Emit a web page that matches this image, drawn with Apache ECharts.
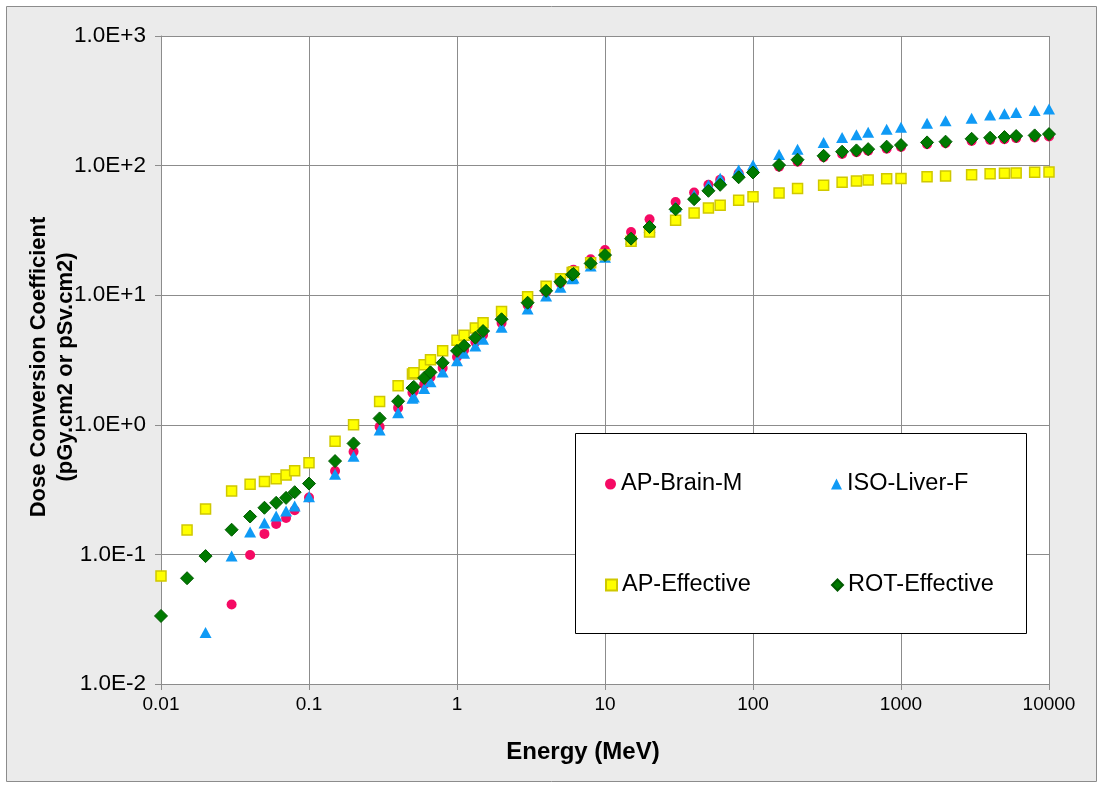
<!DOCTYPE html>
<html>
<head>
<meta charset="utf-8">
<script src="https://cdn.jsdelivr.net/npm/echarts@6/dist/echarts.min.js"></script>
<style>
html,body{margin:0;padding:0;background:#ffffff;}
#chart{width:1104px;height:789px;}
</style>
</head>
<body>
<div id="chart"></div>
<script>
// ---- data ----
var energies = [0.01,0.015,0.02,0.03,0.04,0.05,0.06,0.07,0.08,0.1,0.15,0.2,0.3,0.4,0.5,0.511,0.6,0.662,0.8,1,1.117,1.33,1.5,2,3,4,5,6,6.129,8,10,15,20,30,40,50,60,80,100,150,200,300,400,500,600,800,1000,1500,2000,3000,4000,5000,6000,8000,10000];

var apBrainM = [null,null,null,0.041,0.099,0.144,0.172,0.191,0.219,0.275,0.44,0.62,0.966,1.35,1.77,1.82,2.05,2.33,2.74,3.34,3.78,4.36,4.93,6.1,8.4,10.6,12.4,15.5,15.7,18.9,22.3,30.7,38.6,52.4,61.9,71.1,77.7,87.3,90,98,107,116,123,127,130,135,139,146,149,155,158,160,163,165,168];

var isoLiverF = [null,null,0.025,0.097,0.149,0.175,0.198,0.216,0.236,0.278,0.416,0.573,0.91,1.24,1.6,1.64,1.91,2.15,2.56,3.12,3.56,4.06,4.57,5.65,7.82,9.87,11.5,13.4,13.6,16.8,19.6,27,33.5,48.2,59.4,71,80,92.6,101,122,134,151,165,173,181,191,198,212,222,232,246,251,257,266,273];

var apEffective = [0.068,0.154,0.224,0.309,0.348,0.365,0.383,0.409,0.442,0.509,0.748,1.0,1.51,2.0,2.47,2.52,2.91,3.17,3.73,4.49,4.90,5.59,6.12,7.48,9.75,11.7,13.4,15.0,15.1,17.8,20.5,26.1,30.8,37.9,43.1,47.1,49.5,54.0,57.5,61.5,66.5,70.5,74.5,76.0,77.5,79.0,79.5,82.2,83.0,85.0,86.5,87.2,87.8,88.9,89.3];

var rotEffective = [0.0335,0.0655,0.097,0.155,0.196,0.229,0.25,0.273,0.302,0.352,0.525,0.718,1.12,1.52,1.92,1.96,2.30,2.54,3.01,3.72,4.07,4.70,5.29,6.52,8.75,10.8,12.7,14.4,14.6,17.6,20.4,27.3,33.6,46.0,55.1,63.9,71.1,81.3,88.5,101,111,119,128,131,134,140,144,151,153,161,164,166,169,171,175];

var seriesNames = ['AP-Brain-M','ISO-Liver-F','AP-Effective','ROT-Effective'];
var xTickLabels = ['0.01','0.1','1','10','100','1000','10000'];
var yTickLabels = ['1.0E-2','1.0E-1','1.0E+0','1.0E+1','1.0E+2','1.0E+3'];
var xTitle = 'Energy (MeV)';
var yTitle = 'Dose Conversion Coefficient\n(pGy.cm2 or pSv.cm2)';

function pairs(vals){
  var out = [];
  for (var i = 0; i < energies.length; i++) {
    if (vals[i] !== null) out.push([energies[i], vals[i]]);
  }
  return out;
}
function tickLabel(list, minExp){
  return function(v){
    var e = Math.round(Math.log(v)/Math.LN10);
    var idx = e - minExp;
    return (idx >= 0 && idx < list.length) ? list[idx] : '';
  };
}

var FONT = '"Liberation Sans", Arial, sans-serif';
var chart = echarts.init(document.getElementById('chart'), null, {renderer:'canvas'});

var legendPos = [
  {left:605, top:472},
  {left:831, top:472},
  {left:605, top:573},
  {left:831, top:573}
];

var option = {
  animation:false,
  backgroundColor:'#ffffff',
  graphic:[
    {type:'rect', z:-10, shape:{x:6.5,y:6.5,width:1090,height:775}, style:{fill:'#ebebeb', stroke:'#8c8c8c', lineWidth:1}},
    {type:'rect', z:-9, shape:{x:161,y:36,width:888,height:648}, style:{fill:'#ffffff'}},
    {type:'rect', z:50, shape:{x:575.5,y:433.5,width:451,height:200}, style:{fill:'#ffffff', stroke:'#000000', lineWidth:1}},
    {type:'text', z:60, x:583, y:752, style:{text:xTitle, font:'bold 24px ' + FONT, fill:'#000', textAlign:'center', textVerticalAlign:'middle'}},
    {type:'text', z:60, x:52, y:367, rotation:Math.PI/2, style:{text:yTitle, font:'bold 22px ' + FONT, fill:'#000', textAlign:'center', textVerticalAlign:'middle', lineHeight:27}}
  ],
  grid:{left:161, right:55, top:36, bottom:105, containLabel:false},
  xAxis:{
    type:'log', logBase:10, min:0.01, max:10000,
    axisLine:{show:true, lineStyle:{color:'#8c8c8c', width:1}},
    axisTick:{show:true, inside:false, length:6, lineStyle:{color:'#8c8c8c'}},
    minorTick:{show:false},
    splitLine:{show:true, lineStyle:{color:'#8c8c8c', width:1}},
    axisLabel:{fontFamily:FONT, fontSize:19, color:'#000', margin:11, formatter:tickLabel(xTickLabels,-2)}
  },
  yAxis:{
    type:'log', logBase:10, min:0.01, max:1000,
    axisLine:{show:true, lineStyle:{color:'#8c8c8c', width:1}},
    axisTick:{show:true, inside:false, length:6, lineStyle:{color:'#8c8c8c'}},
    minorTick:{show:false},
    splitLine:{show:true, lineStyle:{color:'#8c8c8c', width:1}},
    axisLabel:{fontFamily:FONT, fontSize:22.5, color:'#000', margin:15, formatter:tickLabel(yTickLabels,-2)}
  },
  legend: seriesNames.map(function(n, i){
    return {
      data:[n], orient:'horizontal', left:legendPos[i].left, top:legendPos[i].top,
      padding:0, itemWidth:11, itemHeight:11, itemGap:0, z:60,
      selectedMode:false,
      textStyle:{fontFamily:FONT, fontSize:23.5, color:'#000'}
    };
  }),
  series:[
    {name:seriesNames[0], type:'scatter', data:pairs(apBrainM), symbol:'circle', symbolSize:10,
     itemStyle:{color:'#f50a64', opacity:1}},
    {name:seriesNames[1], type:'scatter', data:pairs(isoLiverF), symbol:'triangle', symbolSize:[12,11],
     itemStyle:{color:'#0f9af5', opacity:1}},
    {name:seriesNames[2], type:'scatter', data:pairs(apEffective), symbol:'rect', symbolSize:10,
     itemStyle:{color:'#ffff00', borderColor:'#cfc800', borderWidth:1.5, opacity:1}},
    {name:seriesNames[3], type:'scatter', data:pairs(rotEffective), symbol:'diamond', symbolSize:[13,13],
     itemStyle:{color:'#007a00', borderColor:'#005a00', borderWidth:1, opacity:1}}
  ]
};
chart.setOption(option);
</script>
</body>
</html>
